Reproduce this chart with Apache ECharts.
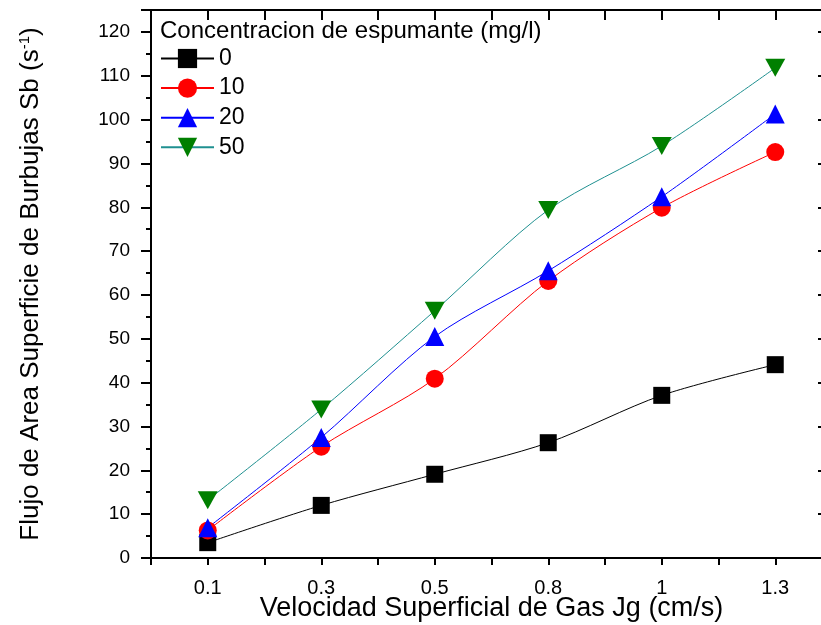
<!DOCTYPE html>
<html>
<head>
<meta charset="utf-8">
<script src="https://cdn.jsdelivr.net/npm/echarts@6/dist/echarts.min.js"></script>
<style>
  html, body { margin: 0; padding: 0; background: #fff; }
  #chart { width: 821px; height: 625px; }
</style>
</head>
<body>
<div id="chart"></div>
<script>
// categories on the x axis (Jg, cm/s)
var categories = ['0.1', '0.3', '0.5', '0.8', '1', '1.3'];

// Sb values for each frother concentration (mg/l)
var conc0  = [3.5, 12.0, 19.1, 26.3, 37.1, 44.1];
var conc10 = [6.3, 25.4, 40.9, 63.2, 79.9, 92.6];
var conc20 = [6.9, 27.5, 50.5, 65.5, 82.4, 101.3];
var conc50 = [13.2, 33.9, 56.4, 79.4, 94.0, 111.8];

var seriesNames = ['0', '10', '20', '50'];

function toPoints(arr) {
	var pts = [];
	for (var i = 0; i < arr.length; i++) {
		pts.push([i, arr[i]]);
	}
	return pts;
}

var font = "'Liberation Sans', Arial, sans-serif";
var axisLine = { show: true, onZero: false, lineStyle: { color: '#000', width: 2 } };

var options = {};
options.animation = false;
options.grid = { left: 151, right: -11, top: 10, bottom: 67, outerBoundsMode: 'none', containLabel: false };

options.graphic = [{
	type: 'text',
	left: 160,
	top: 19,
	style: { text: 'Concentracion de espumante (mg/l)', font: '24px ' + font, fill: '#000' }
}];

options.legend = {
	orient: 'vertical',
	left: 155,
	top: 42,
	itemWidth: 53,
	itemHeight: 24,
	itemGap: 6.6,
	textStyle: { fontSize: 23, lineHeight: 20, fontFamily: font, color: '#000' },
	data: seriesNames
};

options.xAxis = [{
	type: 'value',
	position: 'bottom',
	min: -0.5,
	max: 5.5,
	interval: 0.5,
	axisLine: axisLine,
	axisTick: { show: true, inside: false, length: 7, lineStyle: { color: '#000', width: 2 } },
	splitLine: { show: false },
	axisLabel: {
		color: '#000', fontSize: 20, fontFamily: font, margin: 20,
		formatter: function (v) {
			var k = Math.round(v * 2) / 2;
			if (k >= 0 && k % 1 === 0) return categories[k];
			return '';
		}
	},
	name: 'Velocidad Superficial de Gas Jg (cm/s)',
	nameLocation: 'middle',
	nameGap: 37,
	nameMoveOverlap: false,
	nameTextStyle: { color: '#000', fontSize: 27, fontFamily: font }
}, {
	type: 'value',
	position: 'top',
	min: -0.5,
	max: 5.5,
	interval: 0.5,
	axisLine: axisLine,
	axisTick: { show: true, inside: true, length: 10, lineStyle: { color: '#000', width: 2 } },
	splitLine: { show: false },
	axisLabel: { show: false }
}];

options.yAxis = [{
	type: 'value',
	position: 'left',
	min: 0,
	max: 125,
	interval: 10,
	axisLine: axisLine,
	axisTick: { show: true, inside: false, length: 10, lineStyle: { color: '#000', width: 2 } },
	minorTick: { show: true, splitNumber: 2, length: 5, lineStyle: { color: '#000', width: 2 } },
	splitLine: { show: false },
	axisLabel: { color: '#000', fontSize: 19, fontFamily: font, margin: 21, showMaxLabel: false },
	name: 'Flujo de Area Superficie de Burbujas Sb (s{sup|-1})',
	nameLocation: 'middle',
	nameGap: 107,
	nameMoveOverlap: false,
	nameTextStyle: {
		color: '#000', fontSize: 26, fontFamily: font,
		rich: { sup: { fontSize: 15, verticalAlign: 'top', padding: [0, 0, 12, 0], fontFamily: font } }
	}
}, {
	type: 'value',
	position: 'right',
	min: 0,
	max: 125,
	interval: 10,
	axisLine: axisLine,
	axisTick: { show: true, inside: true, length: 14, lineStyle: { color: '#000', width: 2 } },
	minorTick: { show: true, splitNumber: 2, length: 8, lineStyle: { color: '#000', width: 2 } },
	splitLine: { show: false },
	axisLabel: { show: false }
}];

var seriesConfig = [
	{ name: '0',  data: conc0,  symbol: 'rect', size: 17, line: '#000000', fill: '#000000' },
	{ name: '10', data: conc10, symbol: 'circle', size: 18, line: '#ff0000', fill: '#ff0000' },
	{ name: '20', data: conc20, symbol: 'triangle', size: 19, line: '#0000ff', fill: '#0000ff' },
	{ name: '50', data: conc50, symbol: 'path://M0,0 L10,0 L5,9 Z', size: [20, 18], line: '#1f9090', fill: '#007f00' }
];

options.series = [];
for (var i = 0; i < seriesConfig.length; i++) {
	var c = seriesConfig[i];
	options.series.push({
		name: c.name,
		type: 'line',
		xAxisIndex: 0,
		yAxisIndex: 0,
		smooth: 0.3,
		data: toPoints(c.data),
		symbol: c.symbol,
		symbolSize: c.size,
		showAllSymbol: true,
		lineStyle: { color: c.line, width: 1 },
		itemStyle: { color: c.fill, borderWidth: 0 },
		color: c.fill
	});
}

var myChart = echarts.init(document.getElementById('chart'));
myChart.setOption(options);
</script>
</body>
</html>
